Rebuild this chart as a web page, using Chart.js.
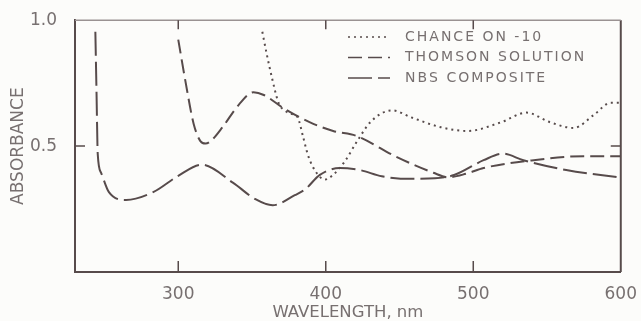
<!DOCTYPE html>
<html>
<head>
<meta charset="utf-8">
<script src="https://cdn.jsdelivr.net/npm/chart.js@4.4.1/dist/chart.umd.min.js"></script>
<style>
  html, body { margin: 0; padding: 0; background: #fcfcfa; }
  #wrap { width: 641px; height: 321px; }
</style>
</head>
<body>
<div id="wrap"><canvas id="absChart" width="641" height="321"></canvas></div>
<script>
// Values: wavelength (nm) and absorbance
const chanceNm  = [357, 360, 363.5, 368, 372, 378, 381, 384.5, 388, 393, 399.5, 405, 413, 421, 431, 445, 458, 478, 496, 519, 536, 552, 568, 582, 593, 600];
const chanceAbs = [0.954, 0.865, 0.772, 0.672, 0.642, 0.625, 0.614, 0.54, 0.463, 0.40, 0.367, 0.386, 0.44, 0.517, 0.60, 0.642, 0.614, 0.575, 0.56, 0.595, 0.633, 0.595, 0.572, 0.625, 0.672, 0.672];

const thomsonNm  = [300, 305, 310.5, 315, 318.5, 322, 330, 341, 351, 358, 371, 389, 405, 421, 447, 473, 483, 495, 507, 541, 575, 600];
const thomsonAbs = [0.923, 0.753, 0.587, 0.52, 0.51, 0.52, 0.575, 0.664, 0.714, 0.703, 0.652, 0.595, 0.56, 0.54, 0.46, 0.394, 0.376, 0.39, 0.413, 0.444, 0.46, 0.46];

const nbsNm  = [243.8, 244.6, 245.4, 247.7, 253, 264.6, 283, 300, 316, 337, 352, 364, 379, 386, 396, 409.5, 423, 438, 458, 474, 487, 507, 520, 534, 563, 600];
const nbsAbs = [0.954, 0.71, 0.47, 0.394, 0.317, 0.286, 0.317, 0.382, 0.426, 0.355, 0.29, 0.265, 0.305, 0.328, 0.386, 0.413, 0.405, 0.38, 0.37, 0.372, 0.385, 0.444, 0.47, 0.444, 0.405, 0.375];

const xTicks = [300, 400, 500, 600];
const yTicks = [0.5, 1.0];
const seriesLabels = ['CHANCE ON -10', 'THOMSON SOLUTION', 'NBS COMPOSITE'];
const seriesDashes = [[2, 4], [14, 6], [24, 6]];

const inkColor = '#574b4b';
const textColor = '#777070';

function toPoints(xs, ys) {
  return xs.map((x, i) => ({ x: x, y: ys[i] }));
}

function makeSeries(i, xs, ys) {
  return {
    label: seriesLabels[i],
    data: toPoints(xs, ys),
    borderColor: inkColor,
    borderWidth: 2,
    borderDash: seriesDashes[i]
  };
}

// frame, inward ticks and legend
const framePlugin = {
  id: 'absFrame',
  afterDraw(chart) {
    const { ctx, chartArea: a, scales } = chart;
    ctx.save();
    ctx.strokeStyle = inkColor;
    ctx.lineWidth = 2;
    ctx.beginPath();
    ctx.moveTo(a.right, a.top);
    ctx.lineTo(a.right, a.bottom);
    ctx.stroke();
    ctx.strokeStyle = '#9a9292';
    ctx.lineWidth = 1.5;
    ctx.beginPath();
    ctx.moveTo(a.left, a.top);
    ctx.lineTo(a.right, a.top);
    ctx.stroke();

    ctx.strokeStyle = inkColor;
    xTicks.forEach(v => {
      if (v >= scales.x.max) return;
      const px = scales.x.getPixelForValue(v);
      ctx.beginPath();
      ctx.moveTo(px, a.bottom);
      ctx.lineTo(px, a.bottom - 11);
      ctx.moveTo(px, a.top);
      ctx.lineTo(px, a.top + 9);
      ctx.stroke();
    });
    yTicks.forEach(v => {
      if (v >= scales.y.max) return;
      const py = scales.y.getPixelForValue(v);
      ctx.beginPath();
      ctx.moveTo(a.left, py);
      ctx.lineTo(a.left + 10, py);
      ctx.moveTo(a.right, py);
      ctx.lineTo(a.right - 10, py);
      ctx.stroke();
    });

    // legend: take dash style from each dataset's resolved line options
    ctx.font = '14px "DejaVu Sans"';
    ctx.textBaseline = 'middle';
    ctx.textAlign = 'left';
    chart.data.datasets.forEach((ds, i) => {
      const line = chart.getDatasetMeta(i).dataset;
      const dash = line.segments.length ? line.options.borderDash : seriesDashes[i];
      const y = 37 + i * 20.5;
      ctx.strokeStyle = inkColor;
      ctx.lineWidth = 1.5;
      ctx.setLineDash(dash);
      ctx.beginPath();
      ctx.moveTo(348, y);
      ctx.lineTo(390, y);
      ctx.stroke();
      ctx.setLineDash([]);
      ctx.fillStyle = textColor;
      let x = 405;
      for (const ch of ds.label) {
        ctx.fillText(ch, x, y);
        x += ctx.measureText(ch).width + 2;
      }
    });
    ctx.restore();
  }
};

const ctx = document.getElementById('absChart').getContext('2d');
const absChart = new Chart(ctx, {
  type: 'line',
  data: {
    datasets: [
      makeSeries(0, chanceNm, chanceAbs),
      makeSeries(1, thomsonNm, thomsonAbs),
      makeSeries(2, nbsNm, nbsAbs)
    ]
  },
  options: {
    responsive: false,
    animation: false,
    cubicInterpolationMode: 'monotone',
    elements: { point: { radius: 0 }, line: { fill: false } },
    layout: { padding: { left: 0, top: 13, right: 19, bottom: 0 } },
    scales: {
      x: {
        type: 'linear',
        min: 230,
        max: 600,
        afterBuildTicks: s => { s.ticks = xTicks.map(v => ({ value: v })); },
        afterFit: s => { s.height = 49; },
        grid: { display: false },
        border: { display: true, color: inkColor, width: 2 },
        ticks: { padding: 4, color: textColor, font: { family: 'DejaVu Sans', size: 17 } },
        title: {
          display: true,
          text: 'WAVELENGTH, nm',
          color: textColor,
          padding: { top: 0, bottom: 0 },
          font: { family: 'DejaVu Sans', size: 16.5, lineHeight: 1 }
        }
      },
      y: {
        min: 0,
        max: 1,
        afterBuildTicks: s => { s.ticks = yTicks.map(v => ({ value: v })); },
        afterFit: s => { s.width = 75; },
        grid: { display: false },
        border: { display: true, color: inkColor, width: 2 },
        ticks: { padding: 10, color: textColor, font: { family: 'DejaVu Sans', size: 17 }, callback: v => v.toFixed(1) },
        title: {
          display: true,
          text: 'ABSORBANCE',
          color: textColor,
          padding: { top: 8, bottom: 0 },
          font: { family: 'DejaVu Sans', size: 17, lineHeight: 1.2 }
        }
      }
    },
    plugins: {
      legend: { display: false },
      tooltip: { enabled: false }
    }
  },
  plugins: [framePlugin]
});
</script>
</body>
</html>
